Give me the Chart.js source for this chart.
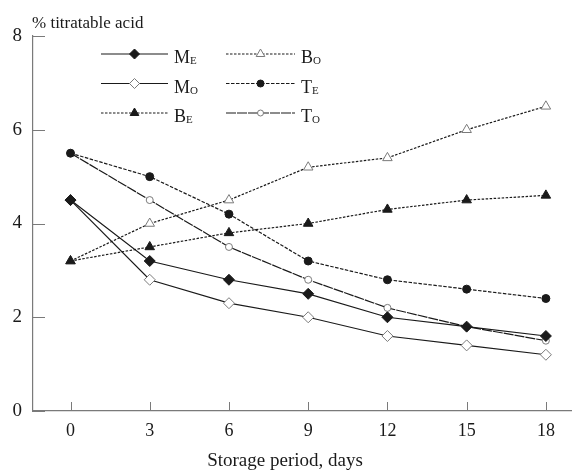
<!DOCTYPE html>
<html>
<head>
<meta charset="utf-8">
<script src="https://cdn.jsdelivr.net/npm/chart.js@4/dist/chart.umd.min.js"></script>
<style>
  html, body { margin: 0; padding: 0; background: #fff; }
  #wrap { width: 578px; height: 471px; }
</style>
</head>
<body>
<div id="wrap"><canvas id="chart"></canvas></div>
<script>
const days = [0, 3, 6, 9, 12, 15, 18];
const yTicks = [0, 2, 4, 6, 8];

const mE = [4.5, 3.2, 2.8, 2.5, 2.0, 1.8, 1.6];
const mO = [4.5, 2.8, 2.3, 2.0, 1.6, 1.4, 1.2];
const bE = [3.2, 3.5, 3.8, 4.0, 4.3, 4.5, 4.6];
const bO = [3.2, 4.0, 4.5, 5.2, 5.4, 6.0, 6.5];
const tE = [5.5, 5.0, 4.2, 3.2, 2.8, 2.6, 2.4];
const tO = [5.5, 4.5, 3.5, 2.8, 2.2, 1.8, 1.5];

const seriesNames = ["M", "M", "B", "B", "T", "T"];
const seriesSubs = ["E", "O", "E", "O", "E", "O"];

const serif = '"Liberation Serif", "DejaVu Serif", serif';
const ink = "#1a1a1a";
const gray = "#7a7a7a";

function points(vals) {
  return vals.map((v, i) => ({ x: days[i], y: v }));
}

function series(vals, dash, style, radius, filled) {
  return {
    data: points(vals),
    borderColor: ink,
    borderWidth: 1.2,
    borderDash: dash,
    tension: 0,
    pointStyle: style,
    pointRadius: radius,
    pointBorderWidth: 1,
    pointBackgroundColor: filled ? ink : "#fff",
    pointBorderColor: filled ? ink : gray
  };
}

// inward tick marks, axis captions and the two-column key
const overlay = {
  id: "overlay",
  afterDraw(chart) {
    const ctx = chart.ctx;
    const { left, bottom } = chart.chartArea;
    const xs = chart.scales.x, ys = chart.scales.y;
    ctx.save();
    ctx.strokeStyle = gray;
    ctx.lineWidth = 1;
    ctx.beginPath();
    days.forEach(d => {
      const px = Math.round(xs.getPixelForValue(d)) + 0.5;
      ctx.moveTo(px, bottom);
      ctx.lineTo(px, bottom - 9);
    });
    yTicks.forEach(v => {
      const py = Math.round(ys.getPixelForValue(v)) + 0.5;
      ctx.moveTo(left, py);
      ctx.lineTo(left + 12, py);
    });
    ctx.stroke();

    ctx.fillStyle = ink;
    ctx.textBaseline = "alphabetic";
    ctx.font = "17px " + serif;
    ctx.fillText("% titratable acid", 32, 28);
    ctx.font = "19px " + serif;
    ctx.textAlign = "center";
    ctx.fillText("Storage period, days", 285, 466);
    ctx.textAlign = "left";

    chart.data.datasets.forEach((ds, i) => {
      const col = Math.floor(i / 3), row = i % 3;
      const x0 = col ? 226 : 101, x1 = col ? 295 : 168;
      const yy = 54 + row * 29.5;
      ctx.strokeStyle = ds.borderColor;
      ctx.lineWidth = 1.2;
      ctx.setLineDash(ds.borderDash || []);
      ctx.beginPath();
      ctx.moveTo(x0, yy);
      ctx.lineTo(x1, yy);
      ctx.stroke();
      ctx.setLineDash([]);
      ctx.fillStyle = ds.pointBackgroundColor;
      ctx.strokeStyle = ds.pointBorderColor;
      ctx.lineWidth = 1;
      Chart.helpers.drawPoint(ctx, {
        pointStyle: ds.pointStyle,
        radius: ds.pointRadius - 0.5,
        rotation: 0,
        borderWidth: 1
      }, (x0 + x1) / 2, yy);
      ctx.fillStyle = ink;
      ctx.font = "18px " + serif;
      const lx = x1 + 6;
      ctx.fillText(seriesNames[i], lx, yy + 9);
      const w = ctx.measureText(seriesNames[i]).width;
      ctx.font = "11px " + serif;
      ctx.fillText(seriesSubs[i], lx + w, yy + 10);
    });
    ctx.restore();
  }
};

new Chart(document.getElementById("chart"), {
  type: "line",
  data: {
    datasets: [
      series(mE, [], "rectRot", 5.5, true),
      series(mO, [], "rectRot", 5.5, false),
      series(bE, [2.5, 1.5], "triangle", 5.5, true),
      series(bO, [2.5, 1.5], "triangle", 5.5, false),
      series(tE, [3.5, 1.5], "circle", 4, true),
      series(tO, [10, 1], "circle", 3.5, false)
    ]
  },
  options: {
    responsive: true,
    maintainAspectRatio: false,
    animation: false,
    events: [],
    layout: { padding: { top: 36, left: 0, right: 0, bottom: 0 } },
    plugins: { legend: { display: false }, tooltip: { enabled: false } },
    scales: {
      x: {
        type: "linear",
        min: -1.42,
        max: 18.97,
        afterBuildTicks: s => { s.ticks = days.map(v => ({ value: v })); },
        afterFit: s => { s.height = 60; },
        grid: { display: false, drawTicks: false },
        border: { display: true, color: gray, width: 1.2 },
        ticks: { color: ink, font: { family: serif, size: 18 }, padding: 9, maxRotation: 0 }
      },
      y: {
        min: 0,
        max: 8,
        afterBuildTicks: s => { s.ticks = yTicks.map(v => ({ value: v })); },
        afterFit: s => { s.width = 33; },
        grid: { display: false, drawTicks: false },
        border: { display: true, color: gray, width: 1.2 },
        ticks: { color: ink, font: { family: serif, size: 19 }, padding: 11 }
      }
    }
  },
  plugins: [overlay]
});
</script>
</body>
</html>
